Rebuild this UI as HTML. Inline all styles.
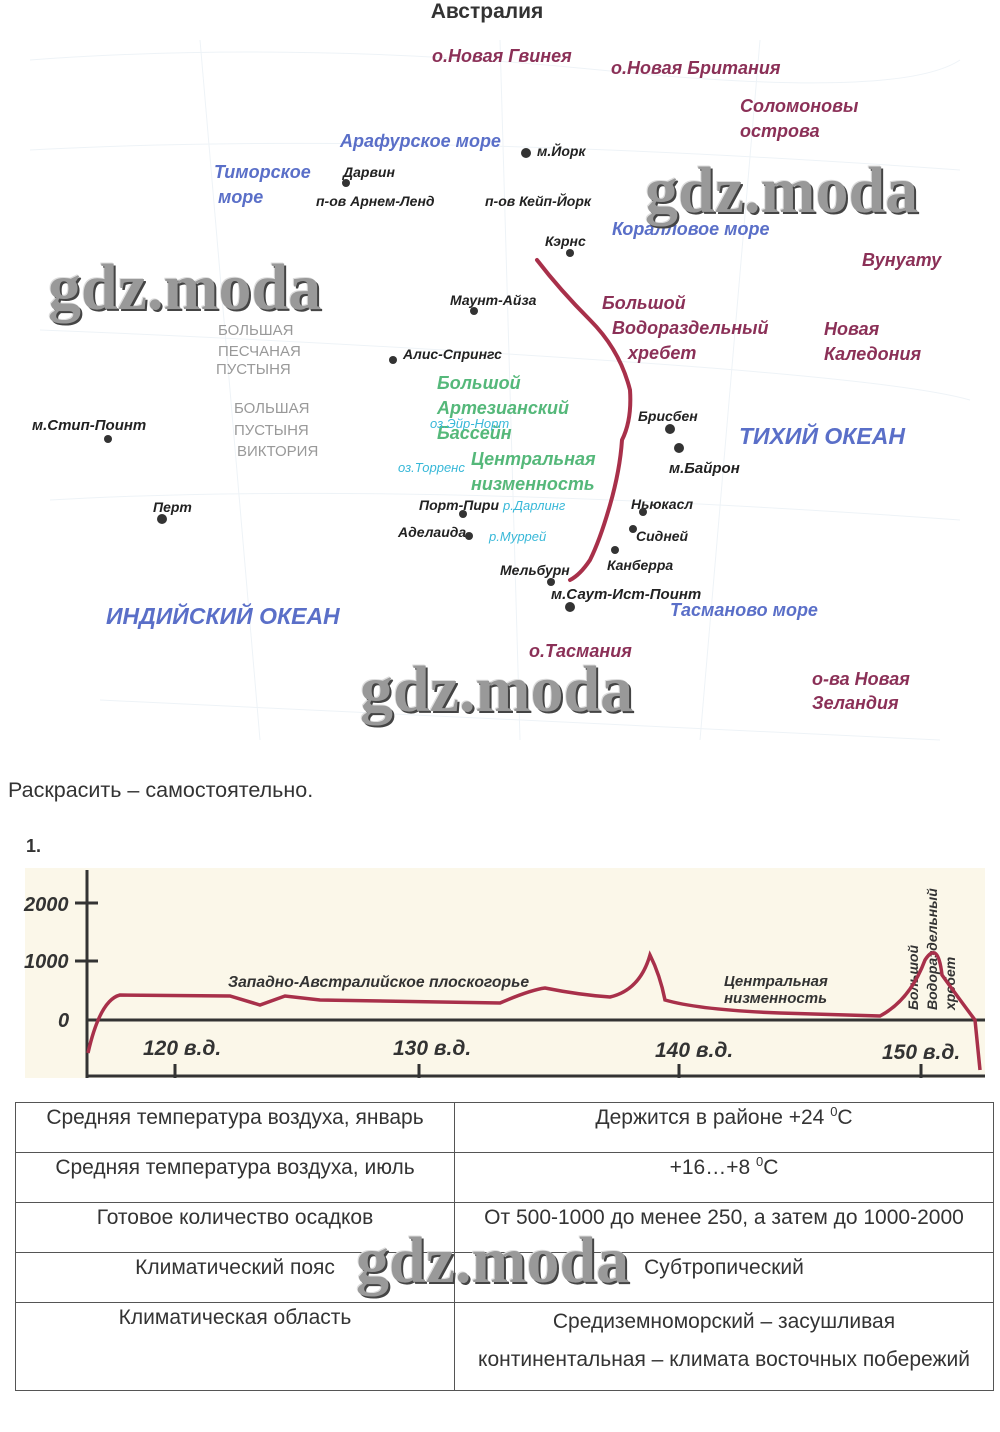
<!DOCTYPE html>
<html><head><meta charset="utf-8"><style>
body{margin:0;width:1000px;height:1432px;background:#fff;position:relative;font-family:"Liberation Sans",sans-serif;overflow:hidden}
svg{position:absolute;left:0;top:0}
.t{font-family:"Liberation Sans",sans-serif}
table{position:absolute;left:15px;top:1102px;width:979px;border-collapse:collapse;font-size:21px;color:#333;table-layout:fixed}
td{border:1px solid #555;height:50px;box-sizing:border-box;vertical-align:top;text-align:center;padding:3px 0 0 0;line-height:24px;white-space:nowrap}
sup{font-size:13px;line-height:0;vertical-align:8px}
.wm{position:absolute;font-family:"Liberation Serif",serif;font-weight:bold;font-size:66px;color:#999;text-shadow:2px 2px 0 #444,-1px -1px 0 #ddd;letter-spacing:0px}
</style></head><body>
<svg width="1000" height="1432" xmlns="http://www.w3.org/2000/svg">
<g fill="none" stroke="#eef3f7" stroke-width="1">
<path d="M30 60 Q300 40 600 70 T960 60"/><path d="M30 150 Q400 130 960 170"/><path d="M40 330 Q300 340 600 360 T970 400"/><path d="M50 500 Q400 480 960 520"/><path d="M100 700 Q500 720 940 740"/>
<path d="M200 40 L260 740"/><path d="M500 40 L520 740"/><path d="M760 40 L700 740"/>
</g>
<g class="t" font-style="italic" font-weight="bold">
<text x="487" y="18" text-anchor="middle" font-size="21" fill="#333" font-style="normal">Австралия</text>
<g fill="#8b3057" font-size="18">
<text x="432" y="62">о.Новая Гвинея</text><text x="611" y="74">о.Новая Британия</text>
<text x="740" y="112">Соломоновы</text><text x="740" y="137">острова</text>
<text x="862" y="266">Вунуату</text>
<text x="602" y="309">Большой</text><text x="612" y="334">Водораздельный</text><text x="628" y="359">хребет</text>
<text x="824" y="335">Новая</text><text x="824" y="360">Каледония</text>
<text x="529" y="657">о.Тасмания</text>
<text x="812" y="685">о-ва Новая</text><text x="812" y="709">Зеландия</text>
</g>
<g fill="#5a6fc8" font-size="18">
<text x="340" y="147">Арафурское море</text><text x="214" y="178">Тиморское</text><text x="218" y="203">море</text>
<text x="612" y="235">Коралловое море</text>
<text x="739" y="444" font-size="23">ТИХИЙ ОКЕАН</text>
<text x="106" y="624" font-size="23">ИНДИЙСКИЙ ОКЕАН</text>
<text x="670" y="616">Тасманово море</text>
</g>
<g fill="#55b87a" font-size="18">
<text x="437" y="389">Большой</text><text x="437" y="414">Артезианский</text><text x="437" y="439">Бассейн</text>
<text x="471" y="465">Центральная</text><text x="471" y="490">низменность</text>
</g>
<g fill="#38b8d8" font-size="13" font-weight="normal">
<text x="430" y="428">оз.Эйр-Норт</text><text x="398" y="472">оз.Торренс</text>
<text x="503" y="510">р.Дарлинг</text><text x="489" y="541">р.Муррей</text>
</g>
<g fill="#999" font-size="15" font-style="normal" font-weight="normal">
<text x="218" y="335">БОЛЬШАЯ</text><text x="218" y="356">ПЕСЧАНАЯ</text><text x="216" y="374">ПУСТЫНЯ</text>
<text x="234" y="413">БОЛЬШАЯ</text><text x="234" y="435">ПУСТЫНЯ</text><text x="237" y="456">ВИКТОРИЯ</text>
</g>
<g fill="#222" font-size="14">
<text x="537" y="156">м.Йорк</text><text x="343" y="177">Дарвин</text>
<text x="316" y="206">п-ов Арнем-Ленд</text><text x="485" y="206">п-ов Кейп-Йорк</text>
<text x="545" y="246">Кэрнс</text><text x="450" y="305">Маунт-Айза</text>
<text x="403" y="359">Алис-Спрингс</text><text x="32" y="430" font-size="15">м.Стип-Поинт</text>
<text x="638" y="421">Брисбен</text><text x="669" y="473" font-size="15">м.Байрон</text>
<text x="153" y="512">Перт</text><text x="419" y="510">Порт-Пири</text><text x="631" y="509">Ньюкасл</text>
<text x="398" y="537">Аделаида</text><text x="636" y="541">Сидней</text><text x="607" y="570">Канберра</text>
<text x="500" y="575">Мельбурн</text><text x="551" y="599" font-size="15">м.Саут-Ист-Поинт</text>
</g>
</g>
<g fill="#333">
<circle cx="526" cy="153" r="5"/><circle cx="346" cy="183" r="4"/><circle cx="570" cy="253" r="4"/>
<circle cx="474" cy="311" r="4"/><circle cx="393" cy="360" r="4"/><circle cx="108" cy="439" r="4"/>
<circle cx="670" cy="429" r="5"/><circle cx="679" cy="448" r="5"/><circle cx="162" cy="519" r="5"/>
<circle cx="463" cy="514" r="4"/><circle cx="643" cy="512" r="4"/><circle cx="469" cy="536" r="4"/>
<circle cx="633" cy="529" r="4"/><circle cx="615" cy="550" r="4"/><circle cx="551" cy="582" r="4"/><circle cx="570" cy="607" r="5"/>
</g>
<path d="M537 260 Q560 290 590 320 Q620 350 630 390 Q632 420 622 440 Q620 470 610 505 Q600 540 590 560 Q580 575 570 580" fill="none" stroke="#a8304a" stroke-width="4" stroke-linecap="round"/>
<text x="8" y="797" font-size="21.5" fill="#333" class="t">Раскрасить – самостоятельно.</text>
<text x="26" y="852" font-size="18" font-weight="bold" fill="#333" class="t">1.</text>
<rect x="25" y="868" width="960" height="210" fill="#fbf7e9"/>
<g stroke="#333" stroke-width="3" fill="none">
<line x1="87" y1="870" x2="87" y2="1078"/><line x1="87" y1="1076" x2="985" y2="1076"/>
<line x1="87" y1="1020" x2="985" y2="1020"/>
<line x1="75" y1="903" x2="98" y2="903"/><line x1="75" y1="961" x2="98" y2="961"/>
<line x1="175" y1="1064" x2="175" y2="1078"/><line x1="419" y1="1064" x2="419" y2="1078"/><line x1="679" y1="1064" x2="679" y2="1078"/><line x1="921" y1="1064" x2="921" y2="1078"/>
</g>
<g class="t" font-weight="bold" font-style="italic" fill="#333">
<text x="24" y="911" font-size="20">2000</text><text x="24" y="968" font-size="20">1000</text><text x="58" y="1027" font-size="20">0</text>
<text x="143" y="1055" font-size="21">120 в.д.</text><text x="393" y="1055" font-size="21">130 в.д.</text>
<text x="655" y="1057" font-size="21">140 в.д.</text><text x="882" y="1059" font-size="21">150 в.д.</text>
<text x="228" y="987" font-size="15.7">Западно-Австралийское плоскогорье</text>
<text x="724" y="986" font-size="15">Центральная</text><text x="724" y="1003" font-size="15">низменность</text>
<g font-size="14" transform="rotate(-90)"><text x="-1010" y="918">Большой</text><text x="-1010" y="937">Водораздельный</text><text x="-1010" y="955">хребет</text></g>
</g>
<path d="M88 1053 Q100 1000 120 995 L230 996 L260 1005 L285 996 L320 1000 L500 1003 Q530 990 545 988 Q580 995 610 997 Q640 990 650 955 Q660 975 665 1000 Q700 1010 780 1013 L880 1016 Q910 1000 925 960 Q938 940 942 975 Q960 1000 975 1020 L980 1070" fill="none" stroke="#a8304a" stroke-width="3.5"/>
</svg>
<table>
<tr><td style="width:439px">Средняя температура воздуха, январь</td><td>Держится в районе +24 <sup>0</sup>С</td></tr>
<tr><td>Средняя температура воздуха, июль</td><td>+16…+8 <sup>0</sup>С</td></tr>
<tr><td>Готовое количество осадков</td><td>От 500-1000 до менее 250, а затем до 1000-2000</td></tr>
<tr><td>Климатический пояс</td><td>Субтропический</td></tr>
<tr><td style="height:88px">Климатическая область</td><td style="height:88px;line-height:38px;padding-top:0">Средиземноморский – засушливая<br>континентальная – климата восточных побережий</td></tr>
</table>
<div class="wm" style="left:48px;top:250px">gdz.moda</div>
<div class="wm" style="left:645px;top:153px">gdz.moda</div>
<div class="wm" style="left:360px;top:652px">gdz.moda</div>
<div class="wm" style="left:356px;top:1223px">gdz.moda</div>
</body></html>
